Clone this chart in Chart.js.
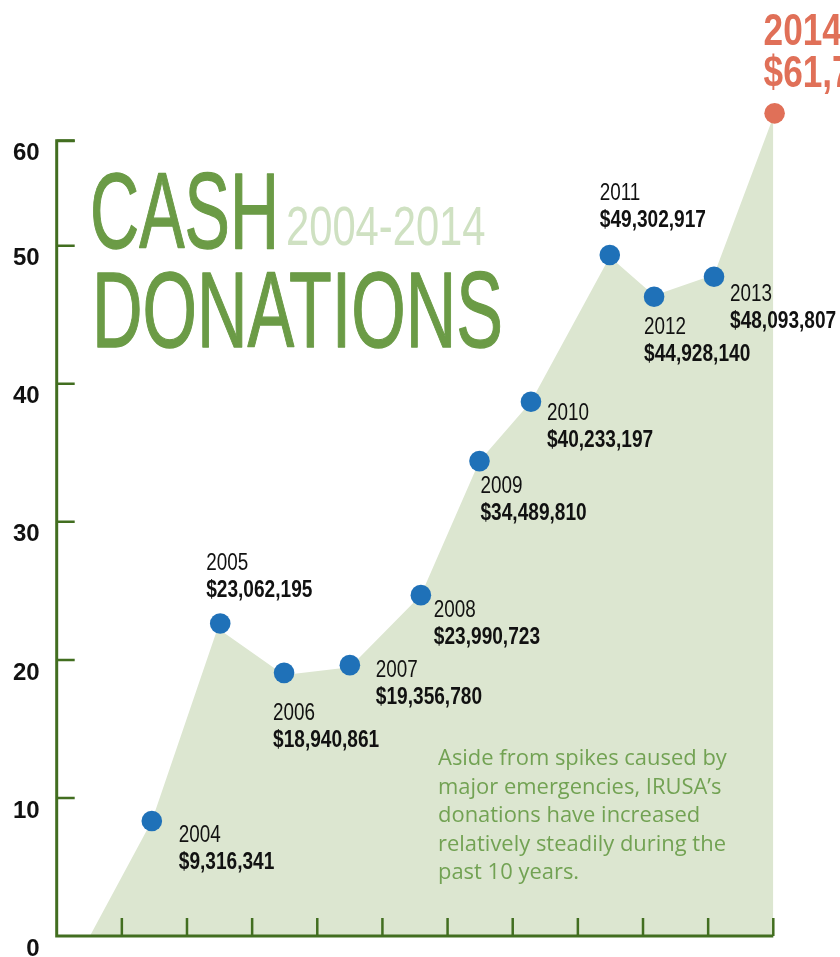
<!DOCTYPE html>
<html>
<head>
<meta charset="utf-8">
<script src="https://cdn.jsdelivr.net/npm/chart.js@4"></script>
<style>
  html, body { margin: 0; padding: 0; background: #fff; }
  #wrap { width: 840px; height: 957px; }
</style>
</head>
<body>
<div id="wrap"><canvas id="chart" width="840" height="957"></canvas></div>
<script>
// donations in millions of dollars
// x runs along the 11 bottom tick marks (0 = y axis)
const years = ['2004', '2005', '2006', '2007', '2008', '2009', '2010', '2011', '2012', '2013', '2014'];
const dotX = [1.46, 2.51, 3.49, 4.50, 5.59, 6.49, 7.28, 8.49, 9.17, 10.09, 11.02];
const dotY = [8.33, 22.64, 19.06, 19.62, 24.69, 34.40, 38.70, 49.33, 46.30, 47.75, 59.59];
const amountLabels = ['$9,316,341', '$23,062,195', '$18,940,861', '$19,356,780', '$23,990,723',
  '$34,489,810', '$40,233,197', '$49,302,917', '$44,928,140', '$48,093,807', '$61,7'];

// outline of the shaded area
const areaX = [0.51, 1.46, 2.47, 3.49, 4.50, 5.59, 6.49, 7.28, 8.49, 9.17, 10.09, 11.02];
const areaY = [0, 8.33, 22.30, 18.90, 19.47, 24.69, 34.40, 38.70, 49.20, 46.40, 47.90, 59.59];

const yTickValues = [0, 10, 20, 30, 40, 50, 57.6];
const yTickLabels = ['0', '10', '20', '30', '40', '50', '60'];

const noteLines = ['Aside from spikes caused by', 'major emergencies, IRUSA\u2019s',
  'donations have increased', 'relatively steadily during the', 'past 10 years.'];

// where each year/amount label sits relative to its dot (px)
const labelShift = [[27, 21], [-14, -53], [-11, 47], [26, 12], [13, 22], [1, 32], [16, 18],
  [-10, -55], [-10, 37], [16, 24], [-11, -68]];

const AXIS = '#426e20';
const BLUE = '#1f71b8';
const ORANGE = '#e07058';
const TITLE = '#6b9b46';

function drawText(ctx, text, x, y, font, color, sx, stroke) {
  ctx.save();
  ctx.font = font;
  ctx.fillStyle = color;
  ctx.textAlign = 'left';
  ctx.textBaseline = 'alphabetic';
  ctx.translate(x, y);
  ctx.scale(sx, 1);
  ctx.fillText(text, 0, 0);
  if (stroke) {
    ctx.strokeStyle = color;
    ctx.lineWidth = stroke;
    ctx.lineJoin = 'round';
    ctx.strokeText(text, 0, 0);
  }
  ctx.restore();
}

const decorations = {
  id: 'decorations',
  afterDatasetsDraw(chart) {
    const { ctx, scales: { x, y } } = chart;
    const x0 = x.getPixelForValue(0);
    const y0 = y.getPixelForValue(0);
    const yTop = y.getPixelForValue(yTickValues[yTickValues.length - 1]);

    // axes with inward tick marks
    ctx.save();
    ctx.strokeStyle = AXIS;
    ctx.lineWidth = 3;
    ctx.beginPath();
    ctx.moveTo(x0 + 18, yTop);
    ctx.lineTo(x0, yTop);
    ctx.lineTo(x0, y0);
    ctx.lineTo(x.getPixelForValue(x.max), y0);
    ctx.stroke();
    ctx.lineWidth = 2.5;
    ctx.beginPath();
    y.ticks.forEach((t) => {
      if (t.value === 0) return;
      const py = y.getPixelForValue(t.value);
      ctx.moveTo(x0, py);
      ctx.lineTo(x0 + 18, py);
    });
    x.ticks.forEach((t) => {
      if (t.value === 0) return;
      const px = x.getPixelForValue(t.value);
      ctx.moveTo(px, y0);
      ctx.lineTo(px, y0 - 18);
    });
    ctx.stroke();
    ctx.restore();

    // title
    drawText(ctx, 'CASH', 90, 248, '108px "Liberation Sans"', TITLE, 0.63, 1.3);
    drawText(ctx, '2004-2014', 286, 245, '56px "Liberation Sans"', '#cfe1c2', 0.745);
    drawText(ctx, 'DONATIONS', 92, 347, '108px "Liberation Sans"', TITLE, 0.648, 1.3);

    // year / amount labels
    years.forEach((yr, i) => {
      const px = x.getPixelForValue(dotX[i]) + labelShift[i][0];
      const py = y.getPixelForValue(dotY[i]) + labelShift[i][1];
      if (i === years.length - 1) {
        drawText(ctx, yr, px, py, 'bold 44px "Liberation Sans"', ORANGE, 0.8);
        drawText(ctx, amountLabels[i], px, py + 42, 'bold 44px "Liberation Sans"', ORANGE, 0.8);
      } else {
        drawText(ctx, yr, px, py, '23px "Liberation Sans"', '#111', 0.82);
        drawText(ctx, amountLabels[i], px, py + 27, 'bold 23px "Liberation Sans"', '#111', 0.83);
      }
    });

    // note
    noteLines.forEach((line, i) => {
      drawText(ctx, line, 438, 765 + i * 28.5, '21px "Open Sans"', '#72a253', 1.045);
    });
  }
};

new Chart(document.getElementById('chart'), {
  type: 'line',
  data: {
    datasets: [
      {
        label: 'Cash donations',
        data: dotX.map((v, i) => ({ x: v, y: dotY[i] })),
        showLine: false,
        pointRadius: 10.3,
        pointHoverRadius: 10.3,
        pointBorderWidth: 0,
        pointBackgroundColor: dotX.map((v, i) => (i === dotX.length - 1 ? ORANGE : BLUE)),
        clip: false,
      },
      {
        label: 'area',
        data: areaX.map((v, i) => ({ x: v, y: areaY[i] })),
        fill: 'origin',
        backgroundColor: '#dce6d0',
        borderWidth: 0,
        borderColor: 'rgba(0,0,0,0)',
        pointRadius: 0,
        tension: 0,
      },
    ],
  },
  options: {
    responsive: false,
    animation: false,
    events: [],
    layout: { padding: { left: 0, right: 66.7, top: 0, bottom: 0 }, autoPadding: false },
    plugins: { legend: { display: false }, tooltip: { enabled: false } },
    scales: {
      x: {
        type: 'linear',
        min: 0,
        max: 11,
        ticks: { display: false, stepSize: 1 },
        grid: { display: false, drawTicks: false },
        border: { display: false },
        afterFit: (scale) => { scale.height = 21; scale.paddingLeft = 0; scale.paddingRight = 0; },
      },
      y: {
        min: 0,
        max: 67.8,
        afterBuildTicks: (scale) => { scale.ticks = yTickValues.map((v) => ({ value: v })); },
        ticks: {
          autoSkip: false,
          padding: 17,
          labelOffset: 13,
          color: '#111',
          font: { family: 'Liberation Sans', size: 24, weight: 'bold' },
          callback: (v, i) => yTickLabels[i],
        },
        grid: { display: false, drawTicks: false },
        border: { display: false },
        afterFit: (scale) => { scale.width = 56.7; scale.paddingTop = 0; scale.paddingBottom = 0; },
      },
    },
  },
  plugins: [decorations],
});
</script>
</body>
</html>
